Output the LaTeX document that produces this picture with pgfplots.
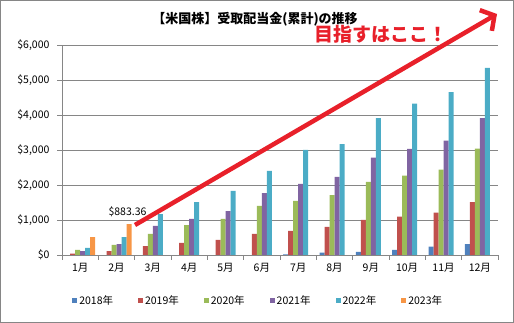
\documentclass[border=0pt]{standalone}
\usepackage{pgfplots}
\pgfplotsset{compat=1.18}
\usepackage{fontspec}
\setmainfont{Noto Sans CJK JP}
\usetikzlibrary{arrows.meta}
\definecolor{c2018}{HTML}{4F81BD}
\definecolor{c2019}{HTML}{C0504D}
\definecolor{c2020}{HTML}{9BBB59}
\definecolor{c2021}{HTML}{8064A2}
\definecolor{c2022}{HTML}{4BACC6}
\definecolor{c2023}{HTML}{F79646}
\definecolor{gridc}{HTML}{868686}
\definecolor{arrowred}{HTML}{E8202A}
\begin{document}
\begin{tikzpicture}[x=1pt,y=1pt]
\useasboundingbox (0,0) rectangle (514,323);
\draw[gridc, line width=0.8pt] (0.6,0.6) rectangle (513.4,322.4);
\begin{axis}[
  at={(62pt,68pt)}, anchor=south west,
  scale only axis, width=436pt, height=210pt,
  xmin=0.5, xmax=12.5, ymin=0, ymax=6000,
  ybar=0pt, bar width=5pt,
  axis lines=left, axis line style={-, draw=gridc},
  xtick={0.5,1.5,...,12.5},
  x tick label as interval,
  xticklabels={1月,2月,3月,4月,5月,6月,7月,8月,9月,10月,11月,12月},
  ytick={0,1000,...,6000},
  yticklabels={\$0,\$1{,}000,\$2{,}000,\$3{,}000,\$4{,}000,\$5{,}000,\$6{,}000},
  tick align=outside, major tick length=5pt,
  tick style={draw=gridc, line width=0.6pt},
  ymajorgrids, grid style={draw=gridc, line width=0.6pt},
  ticklabel style={font=\fontsize{10.5}{12}\selectfont},
  /pgf/number format/assume math mode=true,
  yticklabel style={xshift=-4pt},
  legend columns=6,
  legend style={draw=none, at={(0.45,-0.219)}, anchor=center,
    font=\fontsize{10.5}{12}\selectfont,
    /tikz/every even column/.append style={column sep=23pt}},
  legend image code/.code={\fill[#1,draw=none] (0pt,-2.5pt) rectangle (5pt,2.5pt);},
]
\addplot[fill=c2018, draw=none] coordinates {(7,20) (8,66) (9,86) (10,143) (11,238) (12,314)};
\addplot[fill=c2019, draw=none] coordinates {(1,40) (2,114) (3,257) (4,343) (5,429) (6,600) (7,686) (8,800) (9,1000) (10,1095) (11,1210) (12,1514)};
\addplot[fill=c2020, draw=none] coordinates {(1,143) (2,286) (3,600) (4,857) (5,1029) (6,1400) (7,1543) (8,1714) (9,2086) (10,2267) (11,2438) (12,3038)};
\addplot[fill=c2021, draw=none] coordinates {(1,114) (2,314) (3,829) (4,1029) (5,1257) (6,1771) (7,2029) (8,2229) (9,2781) (10,3029) (11,3267) (12,3914)};
\addplot[fill=c2022, draw=none] coordinates {(1,200) (2,514) (3,1171) (4,1514) (5,1829) (6,2400) (7,3000) (8,3171) (9,3914) (10,4324) (11,4657) (12,5343)};
\addplot[fill=c2023, draw=none] coordinates {(1,514) (2,883.36)};
\legend{2018年,2019年,2020年,2021年,2022年,2023年}
\node[anchor=base, font=\fontsize{10.5}{12}\selectfont, xshift=11pt, yshift=9pt] at (axis cs:2,883.36) {\$883.36};
\end{axis}
\node[font=\fontsize{13}{15}\selectfont\bfseries] at (255,304) {【米国株】受取配当金(累計)の推移};
\draw[arrowred, line width=4.5pt, -{Straight Barb[length=10pt,width=24pt]}] (135,98) -- (497,309);
\node[text=arrowred, font=\fontsize{19}{22}\selectfont\bfseries] at (381,289) {目指すはここ！};
\end{tikzpicture}
\end{document}
